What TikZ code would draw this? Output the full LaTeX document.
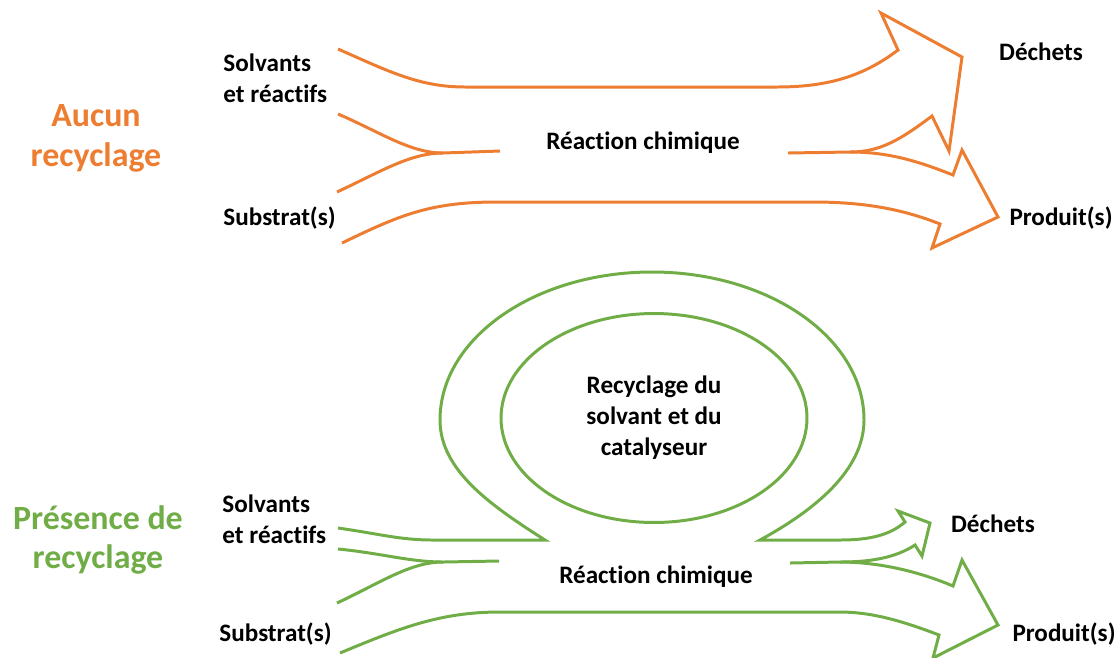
\documentclass[tikz,border=0pt]{standalone}
\usepackage{fontspec}
\setmainfont{Carlito}[Ligatures=NoCommon]
\usepackage{tikz}
\usetikzlibrary{positioning, shapes.geometric}
\usepackage{xcolor}
\definecolor{orangeflux}{HTML}{ED7D31}
\definecolor{vertflux}{HTML}{70AD47}

\begin{document}
\begin{tikzpicture}[x=0.02cm, y=-0.02cm, line width=1.7pt, line join=miter]

		% Define styles
		\tikzstyle{label} = [font=\fontsize{14.3}{17.6}\selectfont\bfseries, inner sep=0pt, align=left]
		\tikzstyle{title} = [font=\fontsize{19.3}{22.7}\selectfont\bfseries, inner sep=0pt, align=center]
		\tikzstyle{flux1} = [draw=orangeflux]
		\tikzstyle{flux2} = [draw=vertflux]

		\useasboundingbox (0,0) rectangle (1118,657);

		% Sans recyclage
		\draw[flux1] (338,49) .. controls (390,72) and (420,87) .. (465,87) -- (777,87)
			.. controls (830,87) and (865,75) .. (898,50) -- (881,13) -- (962,57) -- (949,151) -- (932,116)
			.. controls (900,140) and (880,152) .. (850,152) -- (788,153);
		\draw[flux1] (850,152) .. controls (890,152) and (920,162) .. (953,175) -- (962,150) -- (998,217)
			-- (932,248) -- (940,224) .. controls (900,208) and (860,202) .. (813,202) -- (497,202)
			.. controls (430,202) and (400,215) .. (342,243);
		\draw[flux1] (338,114) .. controls (380,132) and (410,153) .. (443,153) -- (500,151);
		\draw[flux1] (337,192) .. controls (380,172) and (410,153) .. (443,153);

		% Avec recyclage
		\draw[flux2] (338,528) .. controls (380,534) and (400,540) .. (433,540) -- (545,540)
			.. controls (490,505) and (440,470) .. (440,420) .. controls (440,338) and (535,272) .. (652,272)
			.. controls (769,272) and (864,338) .. (864,420) .. controls (864,470) and (815,510) .. (760,540)
			-- (840,540) .. controls (870,540) and (890,535) .. (905,522) -- (898,511) -- (930,523)
			-- (922,556) -- (915,545) .. controls (895,558) and (870,562) .. (840,562) -- (790,563);
		\draw[flux2] (840,562) .. controls (880,562) and (920,572) .. (953,586) -- (962,560) -- (998,625)
			-- (933,658) -- (939,635) .. controls (900,620) and (870,612) .. (840,612) -- (500,612)
			.. controls (440,612) and (400,628) .. (340,653);
		\draw[flux2] (338,549) .. controls (380,553) and (410,562) .. (443,562) -- (499,561);
		\draw[flux2] (337,603) .. controls (380,583) and (410,562) .. (443,562);

		% Nodes
		\node[ellipse, flux2, minimum width=6.12cm, minimum height=4.18cm, label, align=center] (boucle) at (654,418)
			{Recyclage du\\solvant et du\\catalyseur};

		% Labels
		\node[title, text=orangeflux] (aucun) at (96,138) {Aucun\\recyclage};
		\node[label, anchor=west] (solv1) at (222,78) {Solvants\\et réactifs};
		\node[label, anchor=west] (sub1) at (222,218) {Substrat(s)};
		\node[label] (rea1) at (643,143) {Réaction chimique};
		\node[label] (dech1) at (1041,52) {Déchets};
		\node[label] (prod1) at (1061,218) {Produit(s)};

		\node[title, text=vertflux] (presence) at (98,540) {Présence de\\recyclage};
		\node[label, anchor=west] (solv2) at (221,519) {Solvants\\et réactifs};
		\node[label, anchor=west] (sub2) at (218,634) {Substrat(s)};
		\node[label] (rea2) at (656,577) {Réaction chimique};
		\node[label] (dech2) at (993,524) {Déchets};
		\node[label] (prod2) at (1064,634) {Produit(s)};

	\end{tikzpicture}
\end{document}
